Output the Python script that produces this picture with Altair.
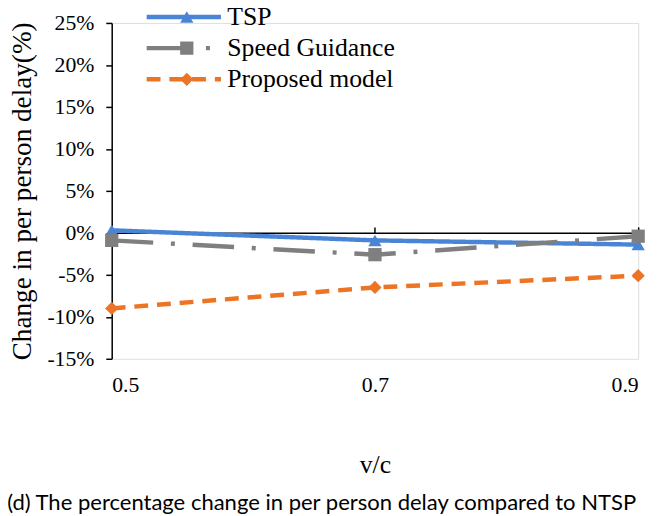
import altair as alt
import pandas as pd

# ---- data ----
vc = [0.5, 0.7, 0.9]
series_names = ["TSP", "Speed Guidance", "Proposed model"]
tsp = [0.3, -0.9, -1.4]
speed_guidance = [-0.9, -2.6, -0.4]
proposed = [-9.0, -6.5, -5.1]
y_ticks = [-15, -10, -5, 0, 5, 10, 15, 20, 25]
caption = "(d) The percentage change in per person delay compared to NTSP"

# ---- styles ----
colors = ["#4A85D5", "#7F7F7F", "#EC7424"]
shapes = ["triangle-up", "square", "diamond"]
dashes = [[1, 0], [42, 18, 4, 18], [14, 9]]
SERIF = "Liberation Serif"

rows = []
for k, (name, vals) in enumerate(zip(series_names, [tsp, speed_guidance, proposed])):
    for x, y in zip(vc, vals):
        rows.append({"vc": x, "value": y, "series": name, "series_pt": name, "order": k})
df = pd.DataFrame(rows)

xscale = alt.Scale(domain=[0.5, 0.9], nice=False, zero=False)
yscale = alt.Scale(domain=[-15, 25], nice=False, zero=False)
legend_sort = alt.EncodingSortField(field="order", op="min")

line_legend = alt.Legend(
    title=None, orient="none", legendX=60, legendY=-19,
    symbolType="M-4.7,0L4.7,0", symbolSize=256, symbolStrokeWidth=4.5,
    symbolFillColor="transparent",
    labelFont=SERIF, labelFontSize=26, labelColor="black", labelOffset=31,
    labelLimit=400, rowPadding=5.5, padding=0,
)
point_legend = alt.Legend(
    title=None, orient="none", legendX=63, legendY=-19,
    symbolSize=180, symbolStrokeWidth=0, labelExpr="''",
    labelFont=SERIF, labelFontSize=26, labelColor="transparent", labelOffset=31,
    labelLimit=400, rowPadding=5.5, padding=0,
)

x_bottom = alt.Axis(
    values=vc, format=".1f", domain=False, ticks=False, grid=False,
    labelPadding=16, labelFont=SERIF, labelFontSize=22, labelColor="black",
    title="v/c", titleFont=SERIF, titleFontSize=26, titleFontWeight="normal",
    titleColor="black", titlePadding=57,
)
y_axis = alt.Axis(
    values=y_ticks, labelExpr="datum.value + '%'", grid=False,
    domainColor="black", domainWidth=1.5, tickColor="black", tickWidth=1.5,
    tickSize=6, labelPadding=12, labelFont=SERIF, labelFontSize=22,
    labelColor="black", title="Change in per person delay(%)",
    titleFont=SERIF, titleFontSize=27.5, titleFontWeight="normal",
    titleColor="black", titlePadding=11,
)
x_zero = alt.Axis(
    orient="top", offset=-212.5, values=vc, labels=False, grid=False,
    domainColor="black", domainWidth=1.5, tickColor="black", tickWidth=1.5,
    tickSize=6, title=None,
)

lines = alt.Chart(df).mark_line(strokeWidth=4.5, strokeCap="butt").encode(
    x=alt.X("vc:Q", scale=xscale, axis=x_bottom),
    y=alt.Y("value:Q", scale=yscale, axis=y_axis),
    color=alt.Color("series:N", sort=legend_sort, scale=alt.Scale(range=colors),
                    legend=line_legend),
    strokeDash=alt.StrokeDash("series:N", sort=legend_sort, scale=alt.Scale(range=dashes),
                              legend=line_legend),
    order=alt.Order("vc:Q"),
)

points = alt.Chart(df).mark_point(filled=True, opacity=1, size=180, strokeWidth=0).encode(
    x=alt.X("vc:Q", scale=xscale, axis=x_zero),
    y=alt.Y("value:Q", scale=yscale),
    fill=alt.Fill("series_pt:N", sort=legend_sort, scale=alt.Scale(range=colors),
                  legend=point_legend),
    shape=alt.Shape("series_pt:N", sort=legend_sort, scale=alt.Scale(range=shapes),
                    legend=point_legend),
)

chart = alt.layer(lines, points).resolve_axis(x="independent").properties(
    width=533, height=340,
    autosize=alt.AutoSizeParams(type="none"),
    padding={"left": 105, "top": 12, "right": 15, "bottom": 154},
    title=alt.TitleParams(
        text=caption, orient="bottom", anchor="middle", frame="group",
        font="Lato", fontSize=22.3, fontWeight="normal", color="black",
        offset=15, dx=-54,
    ),
).configure_view(stroke=None).configure(background="white")

chart.save("out.html", embed_options={"renderer": "svg", "actions": False})
